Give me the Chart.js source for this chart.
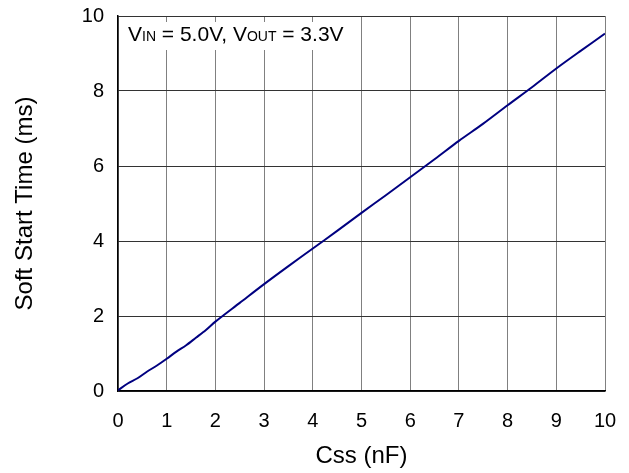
<!DOCTYPE html>
<html>
<head>
<meta charset="utf-8">
<script src="https://cdn.jsdelivr.net/npm/chart.js@4"></script>
<style>
  html, body { margin: 0; padding: 0; background: #fff; }
  #wrap { width: 629px; height: 473px; }
</style>
</head>
<body>
<div id="wrap"><canvas id="ssChart" width="629" height="473"></canvas></div>
<script>
// Soft start time vs Css
const cssValues = [0, 0.2, 0.4, 0.6, 0.8, 1.0, 1.2, 1.4, 1.6, 1.8, 2.0, 2.5, 3.0, 3.5, 4.0, 4.5, 5.0, 5.5, 6.0, 6.5, 7.0, 7.5, 8.0, 8.5, 9.0, 9.5, 10.0];
const softStartMs = [0.02, 0.2, 0.34, 0.52, 0.68, 0.86, 1.05, 1.22, 1.42, 1.62, 1.85, 2.35, 2.85, 3.33, 3.8, 4.27, 4.75, 5.22, 5.7, 6.18, 6.67, 7.13, 7.62, 8.1, 8.6, 9.07, 9.53];
const xTicks = [0, 1, 2, 3, 4, 5, 6, 7, 8, 9, 10];
const yTicks = [0, 2, 4, 6, 8, 10];

const FONT = "'Liberation Sans', Arial, sans-serif";

// white box + condition text in the top-left corner of the plot
const conditionLabel = {
  id: 'conditionLabel',
  beforeDatasetsDraw(chart) {
    const { ctx, chartArea } = chart;
    ctx.save();
    ctx.fillStyle = '#fff';
    ctx.fillRect(chartArea.left + 1, chartArea.top + 6, 237, 28);
    const parts = [
      ['V', 21], ['IN', 14], [' = 5.0V, V', 21], ['OUT', 14], [' = 3.3V', 21]
    ];
    let x = chartArea.left + 10;
    const y = chartArea.top + 25;
    ctx.fillStyle = '#000';
    ctx.textBaseline = 'alphabetic';
    parts.forEach(([t, size]) => {
      ctx.font = size + 'px ' + FONT;
      ctx.fillText(t, x, y);
      x += ctx.measureText(t).width;
    });
    ctx.restore();
  }
};

new Chart(document.getElementById('ssChart'), {
  type: 'line',
  data: {
    datasets: [{
      data: cssValues.map((c, i) => ({ x: c, y: softStartMs[i] })),
      borderColor: '#000080',
      borderWidth: 2,
      pointRadius: 0,
      tension: 0.3,
      fill: false
    }]
  },
  options: {
    responsive: false,
    animation: false,
    layout: { padding: { top: 16, right: 24, left: 0, bottom: 0 } },
    plugins: { legend: { display: false }, tooltip: { enabled: false } },
    scales: {
      x: {
        type: 'linear',
        min: 0, max: 10,
        afterBuildTicks: axis => { axis.ticks = xTicks.map(v => ({ value: v })); },
        afterFit: axis => { axis.height = 82; axis.paddingLeft = 0; axis.paddingRight = 0; },
        grid: { color: '#808080', lineWidth: 1, drawTicks: false },
        border: { color: '#000', width: 1.5 },
        ticks: { color: '#000', font: { family: FONT, size: 20 }, padding: 18, maxRotation: 0 },
        title: { display: true, text: 'Css (nF)', color: '#000', font: { family: FONT, size: 24 }, padding: { top: 0, bottom: 2 } }
      },
      y: {
        min: 0, max: 10,
        afterBuildTicks: axis => { axis.ticks = yTicks.map(v => ({ value: v })); },
        afterFit: axis => { axis.width = 118; axis.paddingTop = 0; axis.paddingBottom = 0; },
        grid: { color: '#333', lineWidth: 1, drawTicks: false },
        border: { color: '#000', width: 1.5 },
        ticks: { color: '#000', font: { family: FONT, size: 20 }, padding: 14 },
        title: { display: true, text: 'Soft Start Time (ms)', color: '#000', font: { family: FONT, size: 24 }, padding: { top: 11, bottom: 0 } }
      }
    }
  },
  plugins: [conditionLabel]
});
</script>
</body>
</html>
